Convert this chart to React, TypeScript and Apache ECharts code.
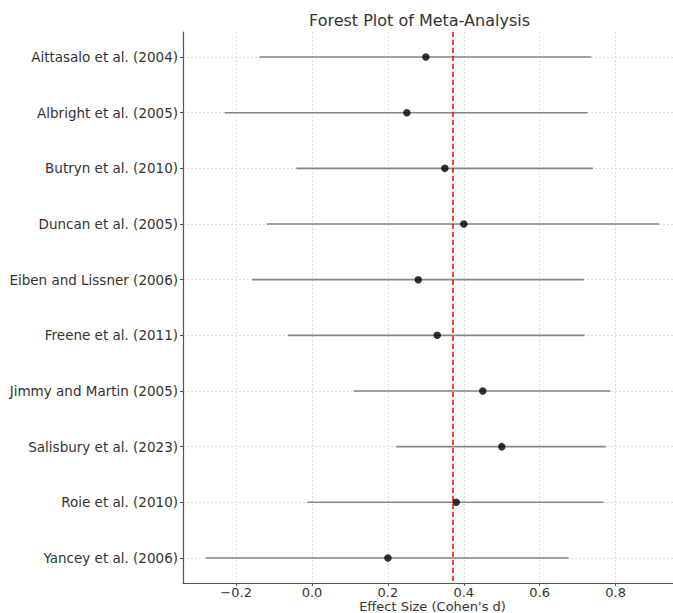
import React, { useEffect, useRef } from "react";
import * as echarts from "echarts";

const studies = [
  "Aittasalo et al. (2004)",
  "Albright et al. (2005)",
  "Butryn et al. (2010)",
  "Duncan et al. (2005)",
  "Eiben and Lissner (2006)",
  "Freene et al. (2011)",
  "Jimmy and Martin (2005)",
  "Salisbury et al. (2023)",
  "Roie et al. (2010)",
  "Yancey et al. (2006)",
];
const effects = [0.3, 0.25, 0.35, 0.4, 0.28, 0.33, 0.45, 0.5, 0.38, 0.2];
const ciLower = [-0.138, -0.23, -0.041, -0.119, -0.158, -0.063, 0.11, 0.222, -0.012, -0.28];
const ciUpper = [0.736, 0.726, 0.74, 0.915, 0.716, 0.718, 0.786, 0.774, 0.768, 0.676];
const pooledEffect = 0.37;
const xTicks = [-0.2, 0.0, 0.2, 0.4, 0.6, 0.8];
const yTicks = studies.map((_, i) => i);

const FONT = "DejaVu Sans";

export default function App() {
  const ref = useRef<HTMLDivElement>(null);
  useEffect(() => {
    document.body.style.margin = "0";
    const chart = echarts.init(ref.current!, null, { renderer: "svg" });
    const fmtX = (v: number) => {
      const s = Math.abs(v).toFixed(1);
      return v < -1e-9 ? "\u2212" + s : s;
    };
    chart.setOption({
      animation: false,
      backgroundColor: "#ffffff",
      textStyle: { fontFamily: FONT },
      title: {
        text: "Forest Plot of Meta-Analysis",
        left: 309,
        top: 12,
        padding: 0,
        textStyle: { fontFamily: FONT, fontSize: 16, fontWeight: "normal", color: "#333" },
      },
      grid: { left: 183, right: -9, top: 32, bottom: 30, containLabel: false, outerBoundsMode: "none" },
      xAxis: {
        type: "value",
        min: -0.34,
        max: 0.975,
        name: "Effect Size (Cohen's d)",
        nameLocation: "middle",
        nameGap: 17.5,
        nameMoveOverlap: false,
        nameTextStyle: { fontFamily: FONT, fontSize: 13, color: "#333", verticalAlign: "top", lineHeight: 12 },
        axisLine: { show: true, onZero: false, lineStyle: { color: "#555", width: 1.2 } },
        axisTick: { show: true, length: 3, customValues: xTicks, lineStyle: { color: "#555" } },
        axisLabel: {
          customValues: xTicks,
          formatter: fmtX,
          fontFamily: FONT,
          fontSize: 13,
          lineHeight: 12,
          color: "#333",
          margin: 3,
        },
        splitLine: { show: true, lineStyle: { color: "#d4d4d4", type: [2, 2], width: 0.8 } },
      },
      yAxis: {
        type: "value",
        inverse: true,
        min: -0.45,
        max: 9.45,
        axisLine: { show: true, onZero: false, lineStyle: { color: "#555", width: 1.2 } },
        axisTick: { show: true, length: 3, customValues: yTicks, lineStyle: { color: "#555" } },
        axisLabel: {
          customValues: yTicks,
          formatter: (v: number) => studies[Math.round(v)] ?? "",
          fontFamily: FONT,
          fontSize: 13.5,
          color: "#333",
          margin: 5,
        },
        splitLine: { show: true, lineStyle: { color: "#d4d4d4", type: [2, 2], width: 0.8 } },
      },
      series: [
        {
          type: "custom",
          data: studies.map((_, i) => [ciLower[i], ciUpper[i], i]),
          encode: { x: [0, 1], y: 2 },
          renderItem: (_params: any, api: any) => {
            const p1 = api.coord([api.value(0), api.value(2)]);
            const p2 = api.coord([api.value(1), api.value(2)]);
            return {
              type: "line",
              shape: { x1: p1[0], y1: p1[1], x2: p2[0], y2: p2[1] },
              style: { stroke: "#858585", lineWidth: 1.6 },
            };
          },
          z: 2,
        },
        {
          type: "scatter",
          data: effects.map((e, i) => [e, i]),
          symbolSize: 7.5,
          itemStyle: { color: "#000" },
          z: 4,
          markLine: {
            silent: true,
            symbol: "none",
            label: { show: false },
            lineStyle: { color: "#ff0000", type: [5, 3], width: 1.5 },
            data: [{ xAxis: pooledEffect }],
            z: 3,
          },
        },
      ],
    });
    return () => chart.dispose();
  }, []);
  return <div ref={ref} style={{ width: 673, height: 613 }} />;
}
